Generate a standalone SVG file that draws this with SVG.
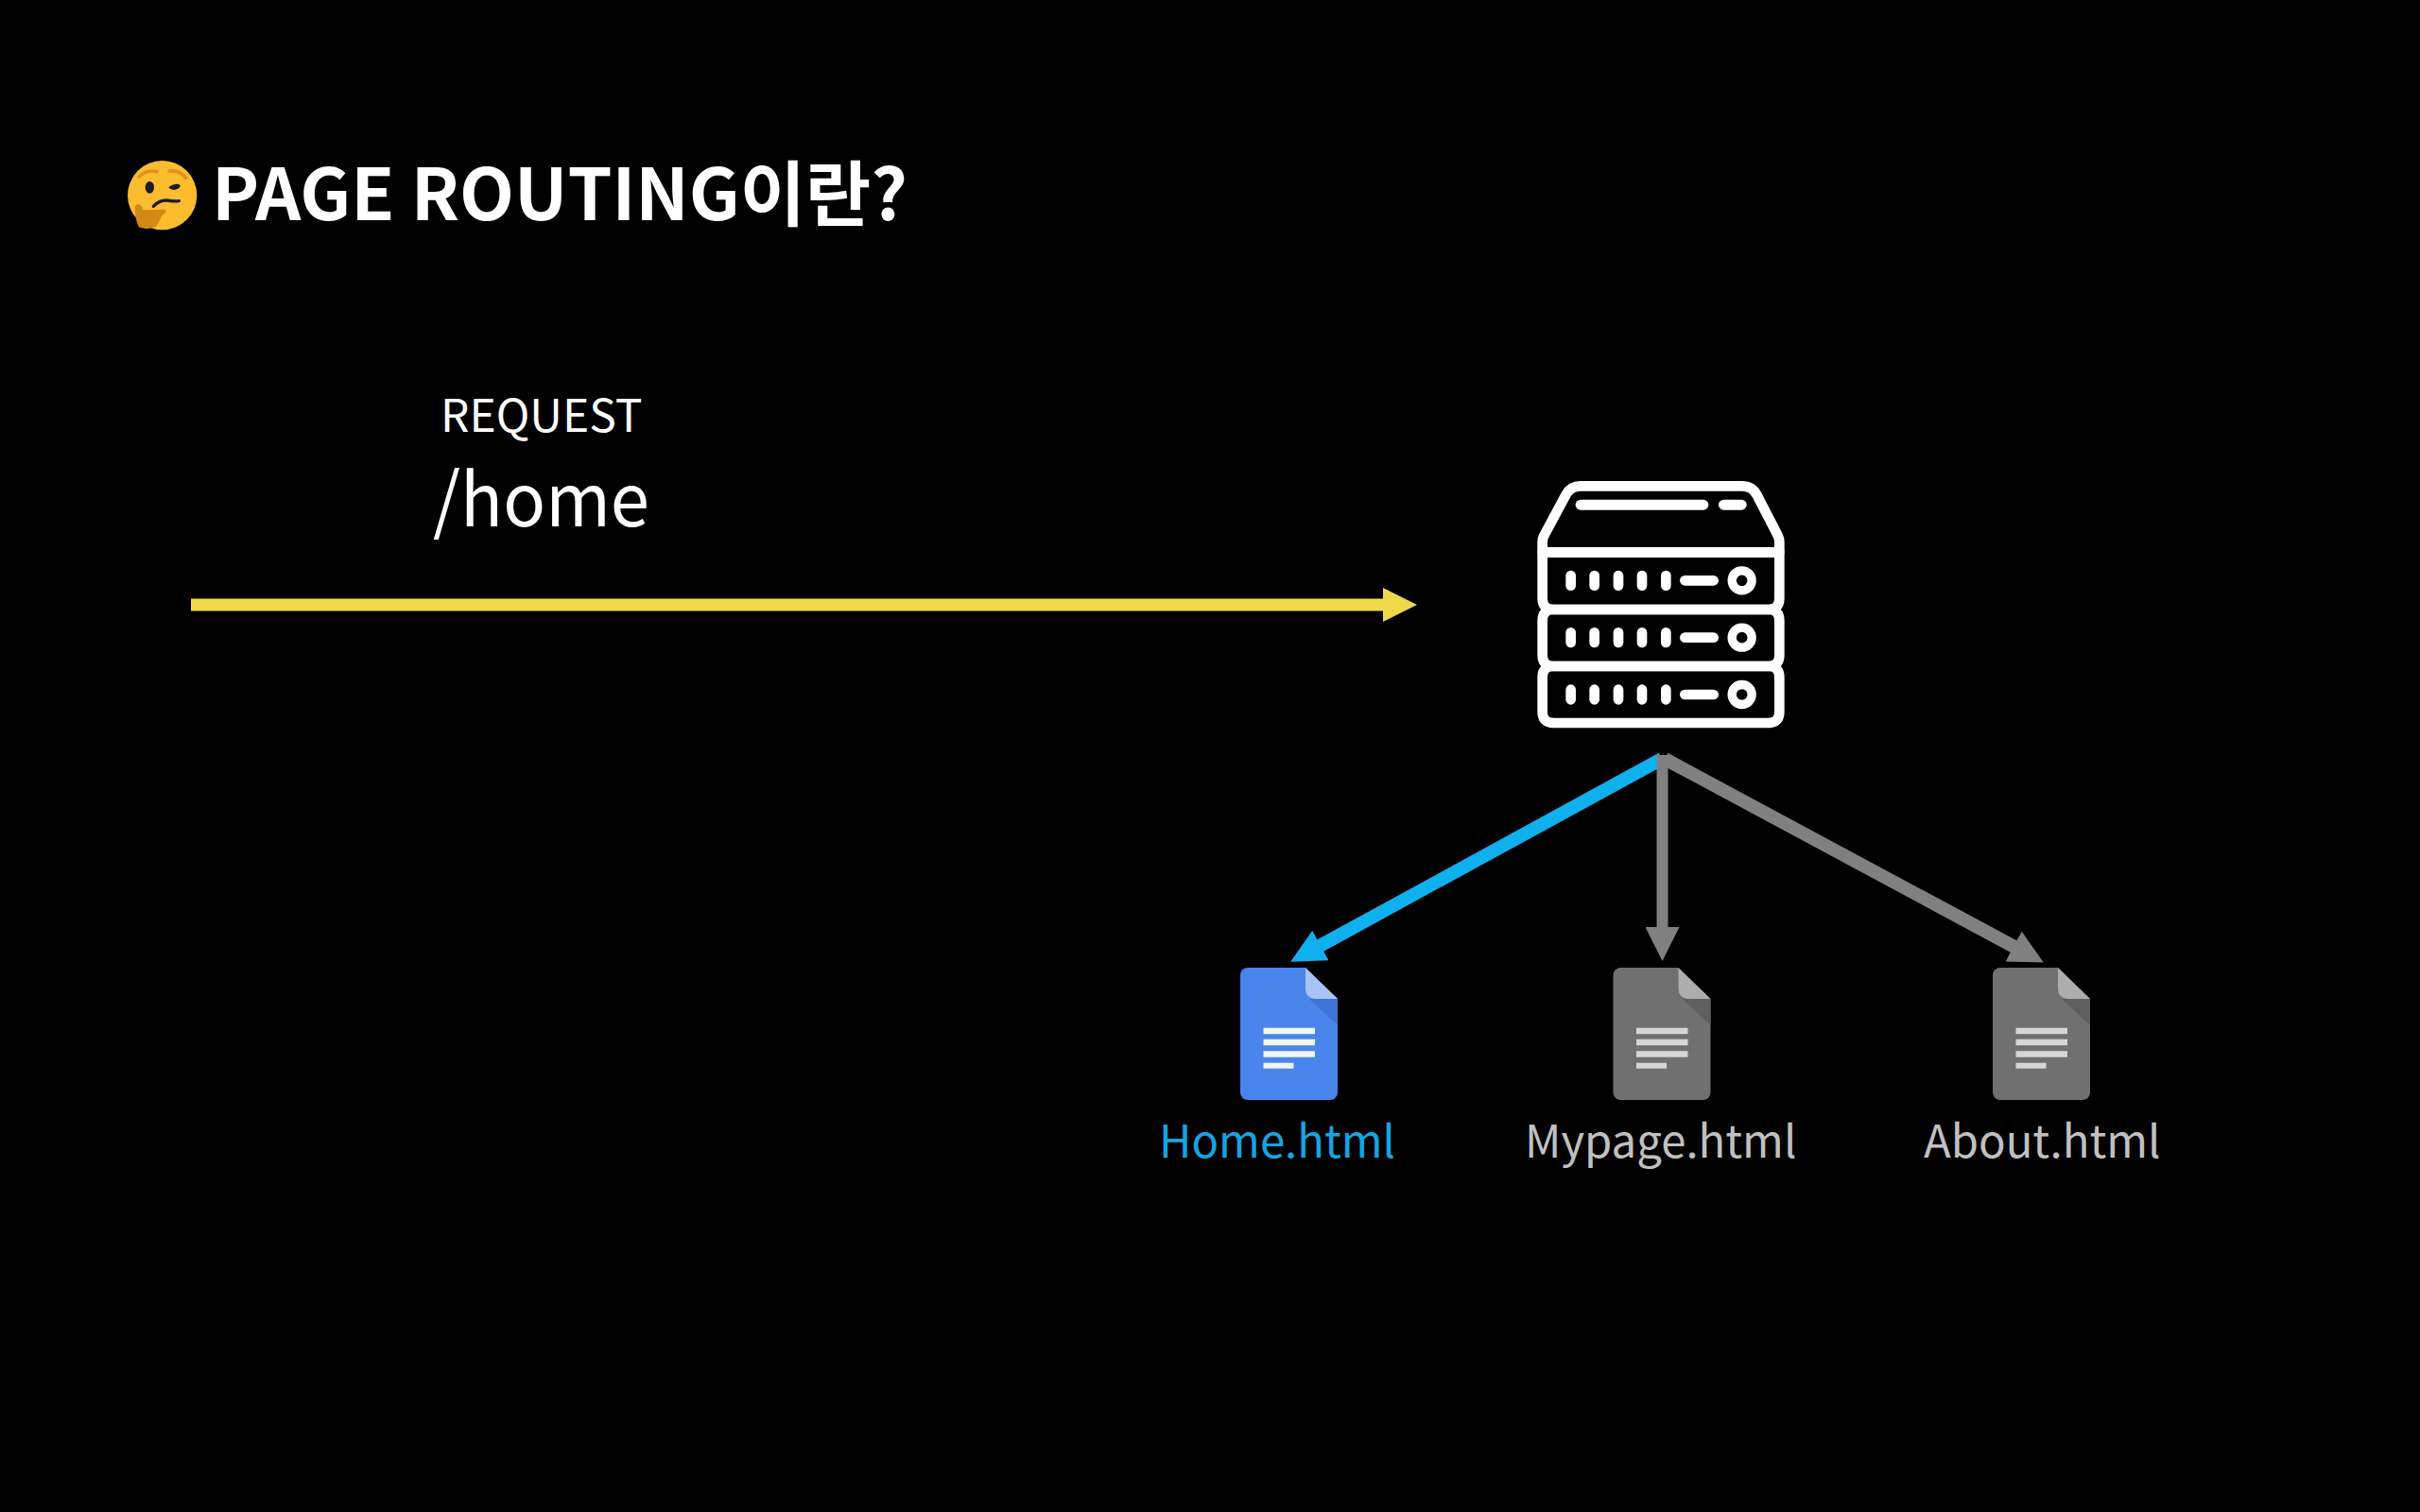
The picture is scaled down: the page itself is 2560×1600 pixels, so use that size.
<svg xmlns="http://www.w3.org/2000/svg" width="2560" height="1600" viewBox="0 0 2560 1600">
<style>
text{font-family:"Noto Sans CJK KR","Noto Sans",sans-serif;fill:#fff}
.title{font-size:75.3px;font-weight:700}
.req{font-size:48px;font-weight:400}
.path{font-size:78px;font-weight:400}
.lbl{font-size:47.3px;font-weight:400}
.blue{fill:#14a5e3}
.grey{fill:#c0c0c0}
.sv{fill:none;stroke:#fff;stroke-width:32;stroke-linejoin:round}
.svf{fill:#fff}
.conn{fill:none;stroke-width:12}
.slant{fill:none;stroke-width:14}
.b{--body:#4a84ed;--fold:#a9c3f6;--sh:#3f74d4;--ln:#f2f4f8}
.g{--body:#707070;--fold:#adadad;--sh:#5f5f5f;--ln:#d6d6d6}
.body{fill:var(--body)}.fold{fill:var(--fold)}.sh{fill:var(--sh)}.ln{fill:var(--ln)}
</style>
<defs>
<marker id="hy" markerUnits="userSpaceOnUse" markerWidth="36" markerHeight="36" refX="1" refY="18" orient="auto"><path d="M0,0L36,18L0,36Z" fill="#efd94b"/></marker>
<marker id="hb" markerUnits="userSpaceOnUse" markerWidth="36" markerHeight="36" refX="1" refY="18" orient="auto"><path d="M0,0L36,18L0,36Z" fill="#0fb0ee"/></marker>
<marker id="hg" markerUnits="userSpaceOnUse" markerWidth="36" markerHeight="36" refX="1" refY="18" orient="auto"><path d="M0,0L36,18L0,36Z" fill="#808080"/></marker>
<g id="row">
<rect x="199" y="-32" width="32" height="64" rx="16" class="svf"/>
<rect x="274" y="-32" width="32" height="64" rx="16" class="svf"/>
<rect x="350" y="-32" width="32" height="64" rx="16" class="svf"/>
<rect x="425" y="-32" width="32" height="64" rx="16" class="svf"/>
<rect x="501" y="-32" width="32" height="64" rx="16" class="svf"/>
<rect x="561" y="-16" width="123" height="32" rx="16" class="svf"/>
<circle cx="758" cy="0" r="31.5" fill="none" stroke="#fff" stroke-width="28"/>
</g>
<g id="docshape">
<path class="body" d="M8,0H69L103,33V132a8,8 0 0 1 -8,8H8a8,8 0 0 1 -8,-8V8a8,8 0 0 1 8,-8Z"/>
<path class="sh" d="M73,33H103V61Z"/>
<path class="fold" d="M69,0L103,33H79a10,10 0 0 1 -10,-10Z"/>
<rect class="ln" x="24.5" y="63.7" width="54.5" height="6.5"/>
<rect class="ln" x="24.5" y="75.7" width="54.5" height="6.5"/>
<rect class="ln" x="24.5" y="88.2" width="54.5" height="6.5"/>
<rect class="ln" x="24.5" y="100.7" width="32" height="6"/>
</g>
</defs>
<rect width="2560" height="1600" fill="#000"/>

<g id="title">
<g id="emoji" transform="translate(125,165) scale(0.3333)">
<circle cx="140" cy="125" r="110" fill="#fbbc2d"/>
<path d="M66,66Q92,42 124,50" fill="none" stroke="#e2901c" stroke-width="11" stroke-linecap="round"/>
<path d="M162,48Q196,44 215,70" fill="none" stroke="#e2901c" stroke-width="11" stroke-linecap="round"/>
<ellipse cx="100" cy="100" rx="14" ry="19" fill="#1c1c1c"/>
<path d="M160,100Q176,86 194,90Q202,100 186,106Q170,112 160,100Z" fill="#1c1c1c"/>
<path d="M112,160Q130,140 155,141Q178,145 193,143" fill="none" stroke="#1c1c1c" stroke-width="10" stroke-linecap="round"/>
<path d="M54,158Q68,144 80,172L148,170Q158,178 140,188L120,225Q90,236 66,226Q52,200 54,158Z" fill="#d18a16"/>
</g>
<text class="title" x="224" y="233">PAGE ROUTING이란?</text>
</g>

<g id="request-label">
<text class="req" x="466" y="457">REQUEST</text>
<text class="path" x="458" y="557" textLength="229" lengthAdjust="spacingAndGlyphs">/home</text>
</g>

<g id="connectors">
<line x1="202" y1="640" x2="1464" y2="640" stroke="#efd94b" stroke-width="13" marker-end="url(#hy)"/>
<line class="slant" x1="1761" y1="803" x2="2131" y2="1002" stroke="#808080" marker-end="url(#hg)"/>
<line class="slant" x1="1758" y1="803" x2="1396" y2="1001" stroke="#0fb0ee" marker-end="url(#hb)"/>
<line class="conn" x1="1758.5" y1="799" x2="1758.5" y2="982" stroke="#808080" marker-end="url(#hg)"/>
</g>

<g id="server" transform="translate(1590,490) scale(0.33333)">
<path class="sv" d="M125,283V250Q125,240 130,230L200,100Q215,73 245,73H760Q790,73 805,100L872,230Q877,240 877,250V283Z"/>
<path class="sv" d="M125,283H877V430Q877,465 842,465H160Q125,465 125,430Z"/>
<path class="sv" d="M160,465H842Q877,465 877,500V610Q877,645 842,645H160Q125,645 125,610V500Q125,465 160,465Z"/>
<path class="sv" d="M160,645H842Q877,645 877,680V790Q877,825 842,825H160Q125,825 125,790V680Q125,645 160,645Z"/>
<rect class="svf" x="230" y="116" width="422" height="33" rx="16.5"/>
<rect class="svf" x="684" y="116" width="89" height="33" rx="16.5"/>
<use href="#row" y="373"/>
<use href="#row" y="554"/>
<use href="#row" y="735"/>
</g>

<g id="doc-home" class="b" transform="translate(1312,1024)"><use href="#docshape"/></g>
<g id="doc-mypage" class="g" transform="translate(1706.5,1024)"><use href="#docshape"/></g>
<g id="doc-about" class="g" transform="translate(2108,1024)"><use href="#docshape"/></g>

<g id="label-home"><text class="lbl blue" x="1226" y="1225">Home.html</text></g>
<g id="label-mypage"><text class="lbl grey" x="1613" y="1225">Mypage.html</text></g>
<g id="label-about"><text class="lbl grey" x="2035" y="1225">About.html</text></g>
</svg>
